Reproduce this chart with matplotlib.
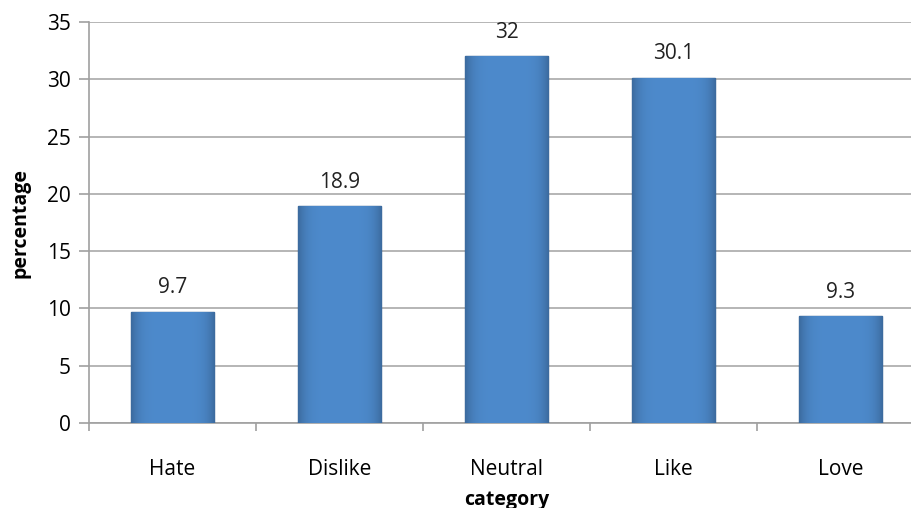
import matplotlib.pyplot as plt
import numpy as np

categories = ['Hate', 'Dislike', 'Neutral', 'Like', 'Love']
values = [9.7, 18.9, 32, 30.1, 9.3]
value_labels = ['9.7', '18.9', '32', '30.1', '9.3']
yticks = [0, 5, 10, 15, 20, 25, 30, 35]

plt.rcParams['font.family'] = ['Open Sans', 'DejaVu Sans']

fig = plt.figure(figsize=(9.11, 5.08), dpi=100)
ax = fig.add_axes([89 / 911, 85 / 508, 835 / 911, 401 / 508])

x = np.arange(len(categories))
bars = ax.bar(x, values, width=0.5, color='#4a84c4', edgecolor='#2d5b8c',
              linewidth=1.0, zorder=3)

# soft shading on each bar: flat middle, darker near the sides
grad = np.linspace(-1, 1, 64)
shade = 1 - 0.22 * np.abs(grad) ** 5
cmap_img = np.zeros((1, 64, 3))
base = np.array([0x4d, 0x8a, 0xcc]) / 255
for i in range(64):
    cmap_img[0, i] = base * shade[i]
for b in bars:
    x0, w, h = b.get_x(), b.get_width(), b.get_height()
    im = ax.imshow(cmap_img, extent=[x0, x0 + w, 0, h], aspect='auto',
                   zorder=3.5, interpolation='bilinear')
    im.set_clip_path(b)

for xi, v, lab in zip(x, values, value_labels):
    ax.text(xi, v + 1.2, lab, ha='center', va='bottom', fontsize=15, color='#222222')

ax.set_xlim(-0.5, len(categories) - 0.5)
ax.set_ylim(0, 35)
ax.set_yticks(yticks)
ax.set_xticks(x)
ax.set_xticklabels(categories)
ax.set_xticks(np.arange(len(categories) + 1) - 0.5, minor=True)
ax.tick_params(axis='x', which='major', length=0, pad=26, labelsize=15)
ax.tick_params(axis='x', which='minor', length=6, color='#a0a0a0', width=1.2)
ax.tick_params(axis='y', length=7, color='#a0a0a0', width=1.2, labelsize=15, pad=6)
ax.grid(axis='y', color='#b5b5b5', linewidth=1.4, zorder=0)
for s in ['top', 'right']:
    ax.spines[s].set_visible(False)
ax.spines['left'].set_color('#a0a0a0')
ax.spines['bottom'].set_color('#a0a0a0')
ax.spines['left'].set_linewidth(1.2)
ax.spines['bottom'].set_linewidth(1.2)

ax.set_xlabel('category', fontsize=14, fontweight='bold', labelpad=7)
ax.set_ylabel('percentage', fontsize=14, fontweight='bold', labelpad=12)

fig.savefig('out.png', dpi=100)
